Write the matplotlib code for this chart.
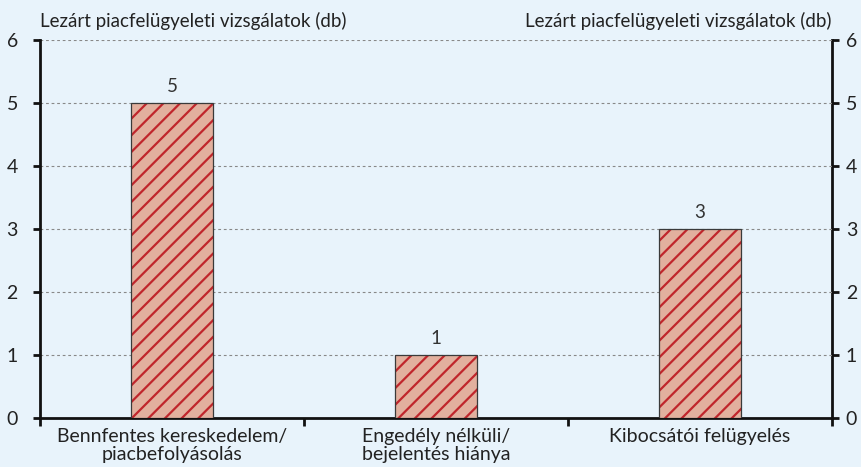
import matplotlib
matplotlib.use('Agg')
import matplotlib.pyplot as plt
import numpy as np

plt.rcParams['font.family'] = ['Lato', 'DejaVu Sans']
plt.rcParams['hatch.linewidth'] = 1.6

categories = ['Bennfentes kereskedelem/\npiacbefolyásolás',
              'Engedély nélküli/\nbejelentés hiánya',
              'Kibocsátói felügyelés']
values = [5, 1, 3]
y_ticks = [0, 1, 2, 3, 4, 5, 6]
axis_title = 'Lezárt piacfelügyeleti vizsgálatok (db)'

bg = '#E8F3FB'
text_c = '#222222'

fig = plt.figure(figsize=(8.61, 4.67), dpi=100, facecolor=bg)
ax = fig.add_axes([0.0465, 0.105, 0.9198, 0.8095], facecolor=bg)

x = np.arange(len(categories))
# fill + red hatch, then a separate outline in dark grey
ax.bar(x, values, width=0.31, color='#E2B09E', edgecolor='#C0262C',
       linewidth=0, hatch='//', zorder=3)
ax.bar(x, values, width=0.31, color='none', edgecolor='#3A3A3A',
       linewidth=0.9, zorder=4)

for xi, v in zip(x, values):
    ax.text(xi, v + 0.13, str(v), ha='center', va='bottom', fontsize=13.5, color='#333333')

ax.set_xlim(-0.5, len(categories) - 0.5)
ax.set_ylim(0, 6)
ax.set_yticks(y_ticks)
for t in y_ticks[1:]:
    ax.axhline(t, color='#888888', linestyle=(0, (2.5, 2.5)), linewidth=0.8, zorder=1)

ax.set_xticks(x)
ax.set_xticklabels(categories, fontsize=14, color=text_c, linespacing=1.1)
ax.tick_params(axis='x', length=0, pad=7)
ax.set_xticks(np.arange(len(categories) + 1) - 0.5, minor=True)
ax.tick_params(axis='x', which='minor', length=6, width=2, direction='out', color='#111111')

ax.tick_params(axis='y', labelsize=14, labelcolor=text_c, length=5, width=2,
               direction='out', color='#111111', pad=11)

sec = ax.secondary_yaxis('right')
sec.set_yticks(y_ticks)
sec.tick_params(axis='y', labelsize=14, labelcolor=text_c, length=5, width=2,
                direction='out', color='#111111', pad=5)
sec.spines['right'].set_linewidth(2)
sec.spines['right'].set_color('#111111')

ax.spines['top'].set_visible(False)
ax.spines['right'].set_visible(False)
for side in ['left', 'bottom']:
    ax.spines[side].set_linewidth(2)
    ax.spines[side].set_color('#111111')

fig.text(0.0465, 0.955, axis_title, ha='left', va='center', fontsize=13.5, color=text_c)
fig.text(0.9663, 0.955, axis_title, ha='right', va='center', fontsize=13.5, color=text_c)

fig.savefig('out.png', dpi=100, facecolor=bg)
